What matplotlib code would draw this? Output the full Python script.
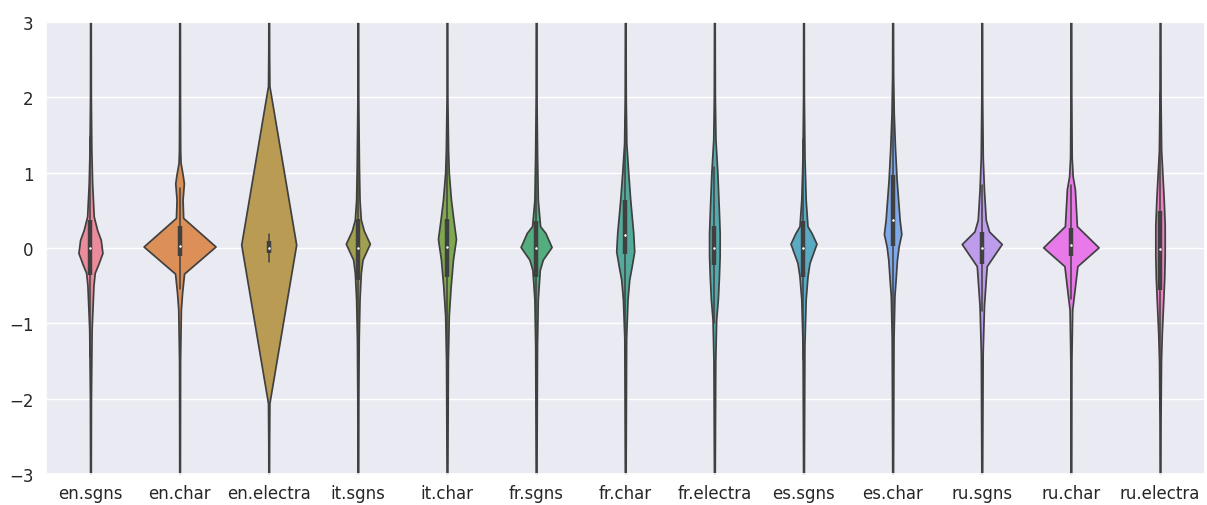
import numpy as np
import matplotlib
matplotlib.use("Agg")
import matplotlib.pyplot as plt
import seaborn as sns

categories = ["en.sgns", "en.char", "en.electra", "it.sgns", "it.char", "fr.sgns",
              "fr.char", "fr.electra", "es.sgns", "es.char", "ru.sgns", "ru.char", "ru.electra"]

# density profile of each violin: y level -> half width (px)
dens_y = [
    [3.3, 2.0, 1.3, 0.86, 0.42, 0.24, 0.11, -0.066, -0.22, -0.33, -0.5, -1.08, -2.0, -3.3],
    [3.3, 2.0, 1.3, 1.13, 0.98, 0.86, 0.64, 0.40, 0.02, -0.34, -0.6, -0.82, -1.5, -3.3],
    [3.3, 2.6, 2.15, 0.045, -2.06, -2.6, -3.3],
    [3.3, 2.0, 1.08, 0.64, 0.377, 0.23, 0.057, -0.155, -0.33, -0.68, -1.2, -2.0, -3.3],
    [3.3, 2.0, 1.3, 1.0, 0.64, 0.37, 0.12, -0.155, -0.51, -0.9, -1.5, -3.3],
    [3.3, 2.0, 1.2, 0.64, 0.29, 0.2, 0.013, -0.155, -0.29, -0.68, -1.3, -3.3],
    [3.3, 2.0, 1.39, 1.0, 0.64, 0.20, -0.045, -0.24, -0.42, -0.68, -1.2, -3.3],
    [3.3, 2.0, 1.44, 1.0, 0.5, 0.2, -0.1, -0.4, -0.68, -0.95, -1.5, -3.3],
    [3.3, 2.0, 1.2, 0.64, 0.29, 0.2, 0.057, -0.2, -0.38, -0.68, -1.3, -3.3],
    [3.3, 2.3, 1.79, 1.35, 0.91, 0.375, 0.186, 0.02, -0.16, -0.42, -0.64, -1.2, -3.3],
    [3.3, 2.0, 1.2, 0.775, 0.375, 0.22, 0.053, -0.24, -0.42, -0.77, -1.4, -3.3],
    [3.3, 2.0, 1.2, 0.95, 0.78, 0.29, 0.008, -0.24, -0.6, -0.82, -1.5, -3.3],
    [3.3, 2.0, 1.3, 1.0, 0.64, 0.3, -0.1, -0.4, -0.68, -1.13, -1.48, -2.3, -3.3],
]
dens_w = [
    [0.3, 0.4, 0.9, 1.7, 3.3, 6.7, 10.3, 12.0, 7.7, 4.3, 3.0, 1.2, 0.5, 0.3],
    [0.3, 0.4, 0.6, 1.0, 3.0, 4.3, 3.0, 3.6, 36.0, 4.5, 2.5, 1.3, 0.5, 0.3],
    [0.3, 0.4, 0.7, 27.5, 0.7, 0.4, 0.3],
    [0.3, 0.4, 1.1, 1.7, 3.0, 6.0, 12.0, 4.7, 3.0, 1.7, 0.9, 0.5, 0.3],
    [0.3, 0.4, 1.1, 1.8, 4.0, 6.5, 9.0, 6.0, 3.7, 1.8, 0.9, 0.3],
    [0.3, 0.4, 1.0, 1.7, 4.0, 9.3, 15.5, 6.7, 3.7, 1.7, 0.9, 0.3],
    [0.3, 0.5, 1.1, 3.0, 5.0, 8.0, 9.0, 6.5, 4.0, 2.3, 0.9, 0.3],
    [0.3, 0.5, 1.1, 3.0, 4.5, 5.3, 5.3, 4.5, 3.5, 1.8, 0.9, 0.3],
    [0.3, 0.4, 1.0, 2.2, 4.0, 8.0, 13.0, 6.0, 4.0, 2.2, 0.9, 0.3],
    [0.3, 0.5, 1.1, 2.3, 4.0, 7.0, 8.7, 6.0, 4.3, 3.0, 1.8, 0.9, 0.3],
    [0.3, 0.4, 1.0, 2.2, 4.0, 7.3, 20.0, 5.0, 4.0, 2.2, 0.9, 0.3],
    [0.3, 0.4, 0.8, 1.8, 4.0, 6.0, 27.7, 6.5, 3.3, 1.3, 0.5, 0.3],
    [0.3, 0.5, 1.1, 2.3, 3.7, 4.7, 4.7, 4.2, 3.3, 1.8, 1.0, 0.5, 0.3],
]

# inner box values
q1 = [-0.355, -0.10, -0.066, -0.43, -0.385, -0.39, -0.075, -0.23, -0.38, 0.02, -0.21, -0.11, -0.56]
median = [0.0, 0.03, 0.0, 0.0, 0.01, 0.0, 0.17, 0.0, 0.0, 0.367, 0.0, 0.035, -0.01]
q3 = [0.376, 0.29, 0.088, 0.39, 0.39, 0.353, 0.64, 0.29, 0.353, 0.97, 0.21, 0.27, 0.49]
whisk_lo = [-1.45, -0.55, -0.18, -1.65, -1.55, -1.5, -1.15, -1.0, -1.48, -1.4, -0.84, -0.68, -2.14]
whisk_hi = [1.47, 0.80, 0.19, 1.6, 1.5, 1.47, 1.7, 1.07, 1.45, 2.4, 0.84, 0.84, 2.07]

sns.set_theme(style="darkgrid")
gray = "#404040"
px_per_cat = 89.2
base = [np.array(sns.desaturate(c, 0.8)) for c in sns.color_palette("husl", len(categories))]
colors = [tuple(0.9 * c + 0.1) for c in base]

fig = plt.figure(figsize=(12.07, 5.06), dpi=100)
ax = fig.add_axes([0.038, 0.0613, 0.960, 0.8932])

positions = np.arange(len(categories))
stats = []
widths = []
for i in range(len(categories)):
    w = np.array(dens_w[i])
    stats.append(dict(coords=np.array(dens_y[i]), vals=w, mean=median[i], median=median[i],
                      min=dens_y[i][-1], max=dens_y[i][0]))
    widths.append(2 * w.max() / px_per_cat)

parts = ax.violin(stats, positions=positions, widths=widths,
                  showmeans=False, showextrema=False, showmedians=False)
for body, c in zip(parts["bodies"], colors):
    body.set_facecolor(c)
    body.set_edgecolor(gray)
    body.set_linewidth(1.25)
    body.set_alpha(1)

for i, x in enumerate(positions):
    ax.plot([x, x], [whisk_lo[i], whisk_hi[i]], color=gray, lw=1.1, zorder=3)
    ax.plot([x, x], [q1[i], q3[i]], color=gray, lw=3.2, solid_capstyle="butt", zorder=3)
ax.scatter(positions, median, s=5, color="white", edgecolor=gray, linewidth=0.4, zorder=4)

ax.set_xlim(-0.5, len(categories) - 0.5)
ax.set_ylim(-3, 3)
ax.set_yticks([-3, -2, -1, 0, 1, 2, 3])
ax.set_xticks(positions)
ax.set_xticklabels(categories)
ax.xaxis.grid(False)
ax.tick_params(axis="x", labelsize=12, pad=7, length=0)
ax.tick_params(axis="y", labelsize=12, pad=9, length=0)

fig.savefig("out.png", dpi=100)
